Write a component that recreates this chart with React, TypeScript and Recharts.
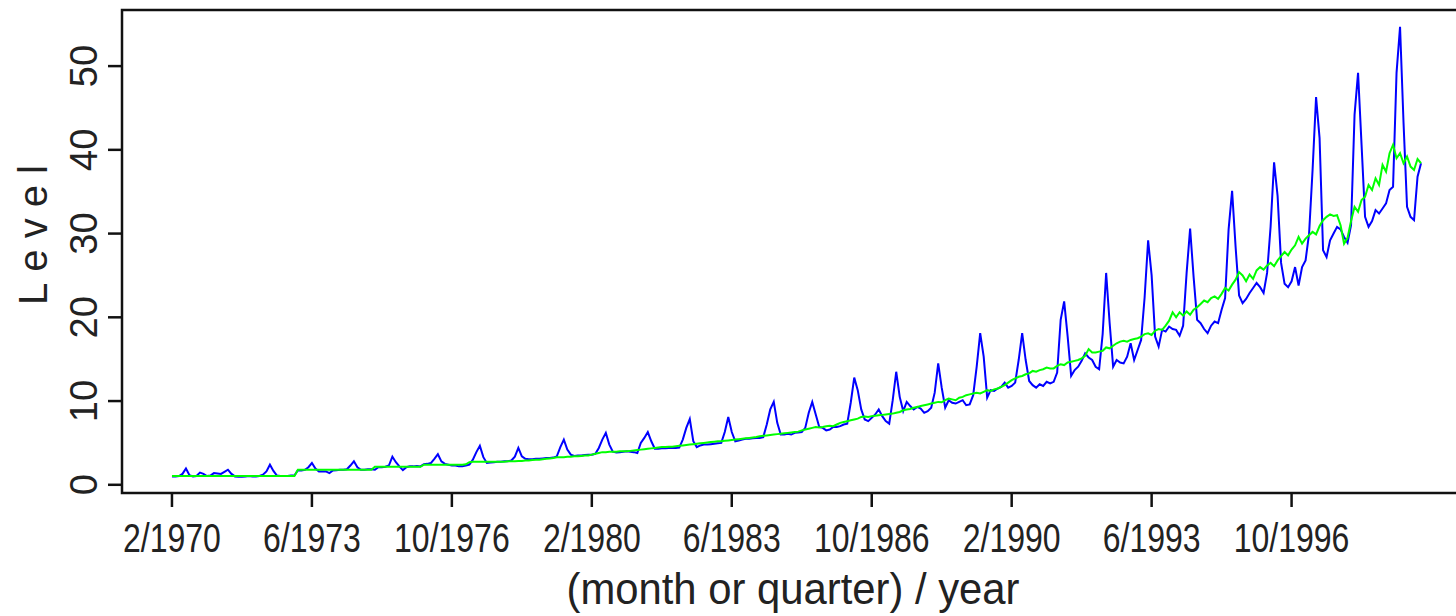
import React from "react";
import { LineChart, Line, XAxis, YAxis, ReferenceArea } from "recharts";

// Monthly levels from 2/1970, one row per twelve months.
const levelRaw: number[][] = [
  [1.0, 1.0, 1.05, 1.3, 1.95, 1.15, 1.0, 1.05, 1.45, 1.3, 1.05, 1.1],
  [1.4, 1.35, 1.3, 1.55, 1.8, 1.3, 1.0, 0.95, 0.95, 1.0, 1.05, 1.0],
  [1.0, 1.05, 1.2, 1.6, 2.4, 1.65, 1.1, 1.05, 1.05, 1.05, 1.1, 1.1],
  [1.75, 1.7, 1.8, 2.1, 2.6, 1.95, 1.6, 1.6, 1.6, 1.4, 1.7, 1.75],
  [1.8, 1.8, 1.85, 2.3, 2.8, 2.1, 1.8, 1.8, 1.85, 1.85, 1.8, 2.1],
  [2.1, 2.15, 2.3, 3.35, 2.7, 2.2, 1.75, 2.1, 2.2, 2.2, 2.25, 2.2],
  [2.45, 2.5, 2.6, 3.1, 3.65, 2.8, 2.5, 2.4, 2.3, 2.3, 2.2, 2.2],
  [2.3, 2.4, 3.0, 3.9, 4.65, 3.3, 2.6, 2.65, 2.7, 2.75, 2.75, 2.8],
  [2.8, 2.9, 3.35, 4.4, 3.4, 3.1, 3.05, 3.05, 3.1, 3.1, 3.15, 3.2],
  [3.2, 3.25, 3.4, 4.5, 5.4, 4.2, 3.6, 3.45, 3.5, 3.5, 3.55, 3.6],
  [3.6, 3.7, 4.4, 5.4, 6.2, 4.8, 3.95, 3.85, 3.9, 3.95, 4.0, 3.95],
  [3.9, 3.8, 5.0, 5.6, 6.3, 5.2, 4.3, 4.3, 4.35, 4.35, 4.4, 4.4],
  [4.4, 4.45, 5.4, 6.8, 7.85, 5.2, 4.5, 4.7, 4.8, 4.8, 4.85, 4.9],
  [4.95, 5.0, 6.3, 8.1, 6.3, 5.2, 5.3, 5.4, 5.5, 5.5, 5.55, 5.6],
  [5.6, 5.7, 7.2, 9.0, 9.9, 7.4, 6.0, 6.0, 6.1, 6.0, 6.2, 6.25],
  [6.3, 6.8, 8.6, 9.9, 8.4, 6.9, 6.8, 6.5, 6.6, 6.9, 6.9, 7.0],
  [7.2, 7.3, 9.8, 12.8, 11.3, 9.0, 7.8, 7.6, 8.0, 8.4, 9.0, 8.2],
  [7.6, 7.3, 10.1, 13.5, 10.5, 8.8, 9.9, 9.4, 9.0, 9.3, 9.1, 8.6],
  [8.8, 9.2, 11.0, 14.5, 11.6, 9.2, 10.1, 9.8, 9.7, 9.9, 10.1, 9.5],
  [9.6, 10.7, 14.1, 18.1, 15.3, 10.4, 11.3, 11.2, 11.5, 11.7, 12.2, 11.6],
  [11.8, 12.2, 14.9, 18.1, 14.9, 12.4, 11.9, 11.6, 12.0, 11.8, 12.3, 12.1],
  [12.3, 13.4, 19.7, 21.9, 17.7, 13.0, 13.7, 14.1, 14.8, 15.7, 15.2, 14.9],
  [14.1, 13.8, 18.0, 25.3, 19.3, 14.1, 14.9, 14.6, 14.5, 15.3, 16.9, 14.9],
  [16.1, 17.3, 22.4, 29.2, 25.0, 17.7, 16.5, 18.5, 18.3, 18.9, 18.6, 18.5],
  [17.8, 19.0, 25.3, 30.6, 24.8, 19.7, 19.3, 18.6, 18.1, 19.0, 19.5, 19.3],
  [20.9, 22.3, 30.5, 35.1, 28.4, 22.6, 21.7, 22.2, 22.9, 23.5, 24.1, 23.6],
  [22.9, 25.3, 30.8, 38.5, 34.5, 26.5, 24.0, 23.6, 24.3, 26.0, 23.8, 26.0],
  [26.8, 30.0, 37.6, 46.3, 41.4, 28.0, 27.2, 29.2, 30.0, 30.8, 30.5, 29.6],
  [28.9, 31.0, 44.2, 49.2, 40.6, 32.0, 30.8, 31.5, 32.8, 32.4, 33.0, 33.6],
  [35.2, 35.6, 49.2, 54.7, 43.2, 33.2, 32.0, 31.6, 36.8, 38.4],
];

// Seasonally adjusted levels, same months.
const levelAdjusted: number[][] = [
  [1.05, 1.05, 1.05, 1.05, 1.05, 1.05, 1.05, 1.05, 1.05, 1.05, 1.05, 1.05],
  [1.05, 1.05, 1.05, 1.05, 1.05, 1.05, 1.05, 1.05, 1.05, 1.05, 1.05, 1.05],
  [1.05, 1.05, 1.05, 1.05, 1.05, 1.05, 1.05, 1.05, 1.05, 1.05, 1.05, 1.05],
  [1.8, 1.8, 1.8, 1.8, 1.8, 1.8, 1.8, 1.8, 1.8, 1.8, 1.8, 1.8],
  [1.8, 1.8, 1.8, 1.8, 1.8, 1.8, 1.8, 1.8, 1.8, 1.8, 2.15, 2.15],
  [2.15, 2.15, 2.15, 2.15, 2.15, 2.15, 2.15, 2.15, 2.15, 2.15, 2.15, 2.15],
  [2.4, 2.4, 2.4, 2.4, 2.4, 2.4, 2.4, 2.4, 2.4, 2.4, 2.4, 2.4],
  [2.45, 2.7, 2.75, 2.75, 2.75, 2.75, 2.75, 2.75, 2.75, 2.75, 2.75, 2.75],
  [2.8, 2.8, 2.8, 2.85, 2.85, 2.9, 2.9, 2.95, 3.0, 3.0, 3.05, 3.1],
  [3.15, 3.2, 3.3, 3.3, 3.3, 3.35, 3.35, 3.4, 3.4, 3.45, 3.5, 3.5],
  [3.6, 3.7, 3.8, 3.9, 3.9, 3.95, 3.95, 3.95, 4.0, 4.0, 4.0, 4.05],
  [4.1, 4.15, 4.2, 4.25, 4.3, 4.35, 4.4, 4.45, 4.5, 4.5, 4.55, 4.55],
  [4.6, 4.65, 4.7, 4.75, 4.8, 4.85, 4.9, 4.95, 5.0, 5.05, 5.1, 5.15],
  [5.2, 5.2, 5.25, 5.3, 5.35, 5.4, 5.45, 5.5, 5.55, 5.6, 5.65, 5.7],
  [5.8, 5.85, 5.9, 5.95, 6.0, 6.05, 6.1, 6.15, 6.2, 6.25, 6.3, 6.35],
  [6.5, 6.6, 6.7, 6.8, 6.9, 6.85, 6.9, 7.0, 7.05, 7.0, 7.2, 7.4],
  [7.5, 7.6, 7.7, 7.8, 7.9, 8.1, 8.15, 8.1, 8.2, 8.25, 8.3, 8.35],
  [8.4, 8.45, 8.5, 8.6, 8.7, 8.9, 9.0, 9.05, 9.2, 9.3, 9.4, 9.5],
  [9.6, 9.7, 9.8, 9.9, 9.85, 10.1, 10.3, 10.2, 10.1, 10.4, 10.5, 10.7],
  [10.8, 10.9, 11.0, 10.9, 11.1, 11.3, 11.2, 11.4, 11.5, 11.7, 11.9, 12.2],
  [12.5, 12.7, 12.9, 13.0, 13.2, 13.3, 13.6, 13.5, 13.7, 13.8, 14.0, 13.9],
  [13.9, 14.2, 14.4, 14.3, 14.6, 14.7, 14.8, 14.9, 15.1, 15.4, 16.2, 15.8],
  [15.8, 15.9, 16.0, 16.4, 16.3, 16.6, 16.9, 17.1, 17.2, 17.1, 17.3, 17.4],
  [17.5, 17.7, 18.0, 18.1, 17.9, 18.4, 18.6, 18.5, 19.0, 19.6, 20.6, 20.0],
  [20.6, 20.2, 20.7, 20.3, 20.9, 21.2, 21.6, 22.0, 21.8, 22.3, 22.5, 22.2],
  [22.8, 23.5, 23.2, 23.9, 24.5, 25.4, 25.0, 24.3, 25.1, 24.6, 25.6, 26.0],
  [25.7, 26.2, 26.5, 26.1, 26.8, 27.3, 27.8, 27.4, 28.1, 28.6, 29.6, 28.8],
  [29.4, 29.8, 30.2, 29.9, 30.9, 31.6, 32.0, 32.3, 32.1, 32.2, 31.0, 28.8],
  [29.5, 31.5, 33.2, 32.6, 34.0, 34.4, 35.8, 35.2, 36.6, 35.8, 38.2, 37.4],
  [39.6, 40.6, 39.0, 39.6, 38.4, 39.2, 38.0, 37.6, 38.9, 38.4],
];

const xTicks = [0, 40, 80, 120, 160, 200, 240, 280, 320];
const xTickLabels = [
  "2/1970", "6/1973", "10/1976", "2/1980", "6/1983",
  "10/1986", "2/1990", "6/1993", "10/1996",
];
const yTicks = [0, 10, 20, 30, 40, 50];

const raw = levelRaw.flat();
const adjusted = levelAdjusted.flat();
const data = raw.map((v, i) => ({ t: i, raw: v, adjusted: adjusted[i] }));

// R-style 4% padding around the data range
const X_DOMAIN: [number, number] = [-14.28, 371.28];
const Y_DOMAIN: [number, number] = [-0.98, 56.7];

const FONT = '"Liberation Sans", Arial, sans-serif';
const INK = "#111";
const TEXT = "#222";

const XTick = (props: any) => {
  const { x, y, payload } = props;
  const label = xTickLabels[xTicks.indexOf(payload.value)];
  return (
    <g transform={`translate(${x},${y + 45}) scale(0.8,1)`}>
      <text textAnchor="middle" fontFamily={FONT} fontSize={40} fill={TEXT}>
        {label}
      </text>
    </g>
  );
};

const YTick = (props: any) => {
  const { x, y, payload } = props;
  return (
    <g transform={`translate(${x - 11},${y}) rotate(-90)`}>
      <text textAnchor="middle" fontFamily={FONT} fontSize={38} fill={TEXT}>
        {payload.value}
      </text>
    </g>
  );
};

export default function App() {
  return (
    <div
      style={{
        position: "absolute",
        left: 0,
        top: 0,
        width: 1456,
        height: 616,
        overflow: "hidden",
        background: "#fff",
      }}
    >
      <LineChart
        width={1480}
        height={616}
        data={data}
        margin={{ top: 10, right: 9, bottom: 0, left: 0 }}
      >
        <XAxis
          type="number"
          dataKey="t"
          domain={X_DOMAIN}
          ticks={xTicks}
          interval={0}
          height={123}
          axisLine={false}
          tickSize={14}
          tickMargin={0}
          tickLine={{ stroke: INK, strokeWidth: 2.5 }}
          tick={<XTick />}
          allowDataOverflow
        />
        <YAxis
          type="number"
          domain={Y_DOMAIN}
          ticks={yTicks}
          interval={0}
          width={122}
          axisLine={false}
          tickSize={14}
          tickMargin={0}
          tickLine={{ stroke: INK, strokeWidth: 2.5 }}
          tick={<YTick />}
          allowDataOverflow
        />
        <Line
          type="linear"
          dataKey="raw"
          stroke="#0000ff"
          strokeWidth={2}
          dot={false}
          activeDot={false}
          isAnimationActive={false}
        />
        <Line
          type="linear"
          dataKey="adjusted"
          stroke="#00ff00"
          strokeWidth={2}
          dot={false}
          activeDot={false}
          isAnimationActive={false}
        />
        {/* plot frame */}
        <ReferenceArea
          x1={X_DOMAIN[0]}
          x2={X_DOMAIN[1]}
          y1={Y_DOMAIN[0]}
          y2={Y_DOMAIN[1]}
          fill="none"
          stroke={INK}
          strokeWidth={2.5}
          ifOverflow="visible"
        />
      </LineChart>
      <svg
        width={1456}
        height={616}
        style={{ position: "absolute", left: 0, top: 0, pointerEvents: "none" }}
      >
        <text
          transform="translate(47,235) rotate(-90)"
          textAnchor="middle"
          fontFamily={FONT}
          fontSize={40}
          fill={TEXT}
          textLength={140}
          lengthAdjust="spacing"
        >
          Level
        </text>
        <text
          x={793}
          y={604}
          textAnchor="middle"
          fontFamily={FONT}
          fontSize={44}
          fill={TEXT}
          textLength={453}
          lengthAdjust="spacingAndGlyphs"
        >
          (month or quarter) / year
        </text>
      </svg>
    </div>
  );
}
